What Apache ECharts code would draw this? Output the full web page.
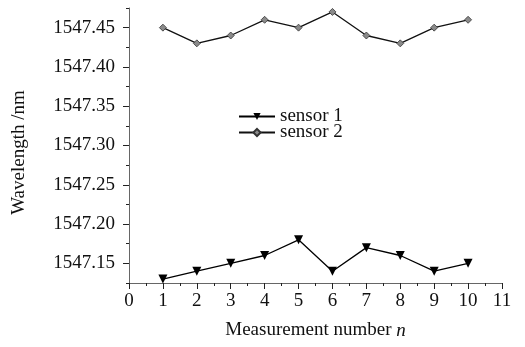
<!DOCTYPE html>
<html>
<head>
<meta charset="utf-8">
<title>Wavelength vs measurement</title>
<style type="text/css">
    *{ margin:0; padding:0; }
    html,body{ width:100%; height:100%; background:#fff; }
    #main{ width:525px; height:347px; }
</style>
</head>
<body>
<div id="main"></div>
<script src="https://cdn.jsdelivr.net/npm/echarts@6/dist/echarts.min.js"></script>
<script type="text/javascript">
// data
var measurements = [1, 2, 3, 4, 5, 6, 7, 8, 9, 10];
var sensor1 = [1547.13, 1547.14, 1547.15, 1547.16, 1547.18, 1547.14, 1547.17, 1547.16, 1547.14, 1547.15];
var sensor2 = [1547.45, 1547.43, 1547.44, 1547.46, 1547.45, 1547.47, 1547.44, 1547.43, 1547.45, 1547.46];
var yTicks = [1547.15, 1547.20, 1547.25, 1547.30, 1547.35, 1547.40, 1547.45];
var seriesNames = ['sensor 1', 'sensor 2'];

var font = 'Liberation Serif';

function pairs(ys){
    return measurements.map(function(x, i){ return [x, ys[i]]; });
}

var myChart = echarts.init(document.getElementById('main'));

var option = {
    animation: false,
    backgroundColor: '#fff',
    textStyle: { fontFamily: font },
    grid: { left: 129, right: 23, top: 8, bottom: 64 },
    legend: {
        orient: 'vertical',
        left: 233,
        top: 102,
        itemWidth: 36,
        itemHeight: 9,
        itemGap: -3,
        data: seriesNames,
        textStyle: { fontFamily: font, fontSize: 19, lineHeight: 15, color: '#111' }
    },
    xAxis: {
        type: 'value',
        min: 0,
        max: 11,
        interval: 1,
        name: 'Measurement number {i|n}',
        nameLocation: 'middle',
        nameGap: 38,
        nameTextStyle: {
            fontFamily: font, fontSize: 19, color: '#111',
            rich: { i: { fontFamily: font, fontSize: 19, fontStyle: 'italic', color: '#111' } }
        },
        axisLine: { show: true, lineStyle: { color: '#666', width: 1 } },
        axisTick: { show: true, length: 6, lineStyle: { color: '#222' } },
        minorTick: { show: true, splitNumber: 2, length: 3, lineStyle: { color: '#222' } },
        axisLabel: { margin: 9, fontFamily: font, fontSize: 19, color: '#111' },
        splitLine: { show: false }
    },
    yAxis: [
        {
            type: 'value',
            min: 1547.125,
            max: 1547.475,
            position: 'left',
            name: 'Wavelength /nm',
            nameLocation: 'middle',
            nameGap: 100,
            nameTextStyle: { fontFamily: font, fontSize: 19, color: '#111', padding: [0, 14, 0, 0] },
            axisLine: { show: true, lineStyle: { color: '#666', width: 1 } },
            axisTick: { show: true, length: 6, customValues: yTicks, lineStyle: { color: '#222' } },
            axisLabel: {
                margin: 14, fontFamily: font, fontSize: 19, color: '#111',
                customValues: yTicks,
                formatter: function(v){ return v.toFixed(2); }
            },
            splitLine: { show: false }
        },
        {
            type: 'value',
            min: 1547.125,
            max: 1547.475,
            interval: 0.025,
            position: 'left',
            offset: 0,
            axisLine: { show: false },
            axisTick: { show: true, length: 3, lineStyle: { color: '#222' } },
            axisLabel: { show: false },
            splitLine: { show: false }
        }
    ],
    series: [
        {
            name: seriesNames[0],
            type: 'line',
            yAxisIndex: 0,
            data: pairs(sensor1),
            symbol: 'triangle',
            symbolRotate: 180,
            symbolSize: 9,
            itemStyle: { color: '#000' },
            lineStyle: { color: '#000', width: 1.3 }
        },
        {
            name: seriesNames[1],
            type: 'line',
            yAxisIndex: 0,
            data: pairs(sensor2),
            symbol: 'diamond',
            symbolSize: 7,
            itemStyle: { color: '#8a8a8a', borderColor: '#333', borderWidth: 0.8 },
            lineStyle: { color: '#111', width: 1.3 }
        }
    ]
};

myChart.setOption(option);
</script>
</body>
</html>
